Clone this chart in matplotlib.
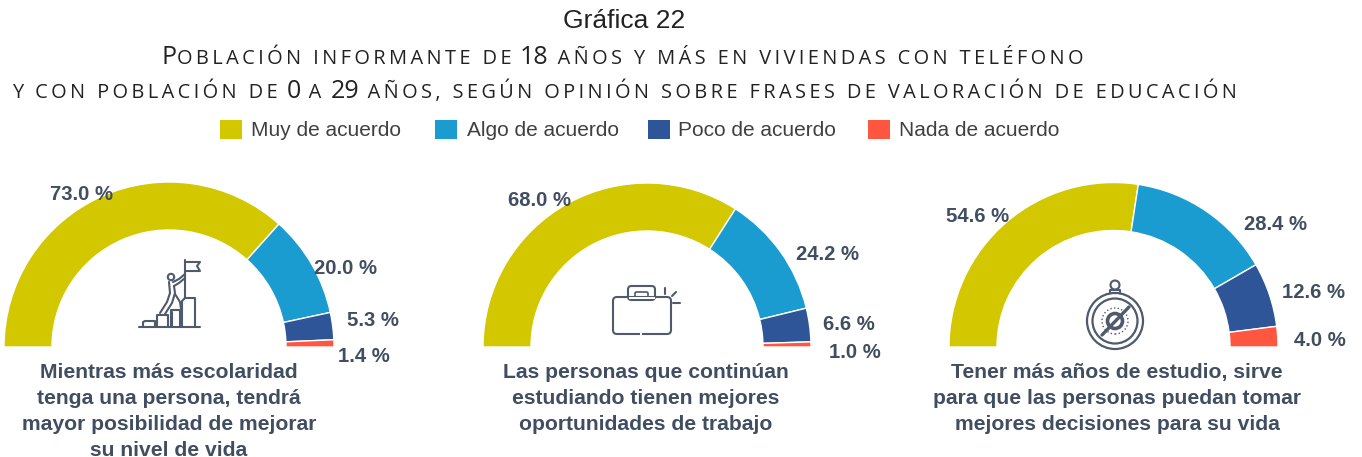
import matplotlib
matplotlib.use('Agg')
import matplotlib.pyplot as plt
from matplotlib.patches import Rectangle, Circle, FancyBboxPatch

W, H = 1362, 457

# datos
categorias = ['Muy de acuerdo', 'Algo de acuerdo', 'Poco de acuerdo', 'Nada de acuerdo']
colores = ['#d3c700', '#1b9cd0', '#2e5597', '#ff5640']
frase1 = [73.0, 20.0, 5.3, 1.4]
frase2 = [68.0, 24.2, 6.6, 1.0]
frase3 = [54.6, 28.4, 12.6, 4.0]
etiquetas1 = ['73.0 %', '20.0 %', '5.3 %', '1.4 %']
etiquetas2 = ['68.0 %', '24.2 %', '6.6 %', '1.0 %']
etiquetas3 = ['54.6 %', '28.4 %', '12.6 %', '4.0 %']
texto1 = 'Mientras más escolaridad\ntenga una persona, tendrá\nmayor posibilidad de mejorar\nsu nivel de vida'
texto2 = 'Las personas que continúan\nestudiando tienen mejores\noportunidades de trabajo'
texto3 = 'Tener más años de estudio, sirve\npara que las personas puedan tomar\nmejores decisiones para su vida'

GRIS = '#414d60'
ICONO = '#4f5a6c'

plt.rcParams['font.family'] = ['Liberation Sans', 'DejaVu Sans']

fig = plt.figure(figsize=(W / 100, H / 100), dpi=100)
ax = fig.add_axes([0, 0, 1, 1])


def Y(y):
    # coordenadas de pixel con origen arriba
    return H - y


def medio_anillo(valores, cx, cy, r, ancho):
    resto = sum(valores)
    ax.pie(valores + [resto], colors=colores + ['none'], startangle=180, counterclock=False,
           center=(cx, Y(cy)), radius=r, frame=True,
           wedgeprops=dict(width=ancho, edgecolor='white', linewidth=1))
    # la rebanada oculta no lleva borde
    ax.patches[-1].set_visible(False)


def linea(xs, ys, lw=1.5):
    ax.plot(xs, [Y(v) for v in ys], color=ICONO, lw=lw, solid_capstyle='round', solid_joinstyle='round')


def caja(x0, y0, x1, y1, radio, lw=1.5):
    ax.add_patch(FancyBboxPatch((x0, Y(y1)), x1 - x0, y1 - y0, boxstyle=f'round,pad=0,rounding_size={radio}',
                                fill=False, ec=ICONO, lw=lw))


medio_anillo(frase1, 169, 347, 165, 48)
medio_anillo(frase2, 647, 347, 164, 48)
medio_anillo(frase3, 1113.5, 347, 164.5, 48)

ax.set_xlim(0, W)
ax.set_ylim(0, H)
ax.set_aspect('auto')
ax.axis('off')

# titulo
ax.text(624, Y(21), 'Gráfica 22', fontsize=19, ha='center', va='center', color='#222222')


def renglon(trozos, x, y):
    # cada trozo: texto, tamano; se coloca uno tras otro con espaciado fino
    r = fig.canvas.get_renderer()
    for s, fs in trozos:
        t = ax.text(x, Y(y), s, fontsize=fs, family=['Open Sans', 'DejaVu Sans'], ha='left',
                    va='baseline', color='#222222')
        x = t.get_window_extent(r).x1


def abierto(s, n='\u2009'):
    return n.join(s)


G, P = 18, 14.45
renglon([('P', G), (abierto('OBLACIÓN INFORMANTE DE '), P), ('18', G),
         (abierto(' AÑOS Y MÁS EN VIVIENDAS CON TELÉFONO'), P)], 162, 64)
renglon([(abierto('Y CON POBLACIÓN DE '), P), ('0', G), (abierto(' A '), P), ('29', G),
         (abierto(' AÑOS, SEGÚN OPINIÓN SOBRE FRASES DE VALORACIÓN DE EDUCACIÓN'), P)], 12, 98)

# leyenda
for cat, col, xc, xt in zip(categorias, colores, [220, 435, 648, 868], [251, 467, 678, 899]):
    ax.add_patch(Rectangle((xc, Y(139)), 22, 19, color=col, lw=0))
    ax.text(xt, Y(130), cat, fontsize=15, ha='left', va='center', color='#404040')

# porcentajes
pos1 = [(82, 194), (346, 269), (373, 320), (364, 357)]
pos2 = [(539, 201), (827, 254), (849, 325), (855, 353)]
pos3 = [(978, 217), (1276, 224), (1313, 292), (1320, 340)]
for etiquetas, pos in [(etiquetas1, pos1), (etiquetas2, pos2), (etiquetas3, pos3)]:
    for e, (x, y) in zip(etiquetas, pos):
        ax.text(x, Y(y), e, fontsize=14.6, fontweight='bold', ha='center', va='center', color=GRIS)

# frases
for s, x, y in [(texto1, 169, 363), (texto2, 646, 363), (texto3, 1117, 363)]:
    ax.text(x, Y(y), s, fontsize=15.2, fontweight='bold', ha='center', va='top', color=GRIS, linespacing=1.46)

# icono escalera
linea([139, 200], [327, 327])
linea([143, 143, 145, 155, 155], [327, 322, 321, 321, 327])
linea([157, 157, 168, 168], [327, 315, 315, 327])
linea([171, 171, 180, 180], [327, 310, 310, 327])
linea([182, 182, 185, 195, 195], [327, 301, 298, 298, 327])
linea([172, 172], [312, 327])
linea([185, 185], [260, 298])
linea([185, 200, 197, 200, 185], [262, 262, 266, 271, 271])
linea([173, 179, 185], [282, 279, 274])
linea([174, 179, 185], [286, 283, 278])
linea([169, 170, 167, 160], [282, 293, 302, 313])
linea([174, 175, 172, 165], [286, 293, 303, 314])
linea([175, 180, 181], [294, 302, 309])
ax.add_patch(Circle((171, Y(277)), 3.2, fill=False, ec=ICONO, lw=1.5))

# icono maletin
caja(613, 297, 671, 334, 4)
caja(628, 286, 655, 300, 3.5)
caja(635, 292, 648, 300, 1.5, lw=1.2)
ax.add_patch(Rectangle((628.5, Y(299)), 26, 1.8, color='white', lw=0, zorder=3))
ax.add_patch(Rectangle((640, Y(335.5)), 2, 3, color='white', lw=0, zorder=3))
linea([665, 665], [288, 294])
linea([672, 676], [296, 292])
linea([673, 680], [303, 303])

# icono brujula
bx, by = 1115, 321
ax.add_patch(Circle((bx, Y(by)), 28, fill=False, ec=ICONO, lw=1.6))
ax.add_patch(Circle((bx, Y(by)), 22.5, fill=False, ec=ICONO, lw=1.6))
ax.add_patch(Circle((bx, Y(by - 36)), 4.5, fill=False, ec=ICONO, lw=1.5))
linea([bx - 5, bx - 5, bx + 5, bx + 5], [by - 28, by - 31, by - 31, by - 28])
ax.add_patch(Circle((bx, Y(by)), 7.5, fill=False, ec=ICONO, lw=2.6))
ax.add_patch(Circle((bx, Y(by)), 13, fill=False, ec=ICONO, lw=1.0, ls=':'))
linea([bx - 13, bx + 14], [by + 14, by - 14], lw=2.4)

fig.savefig('out.png', dpi=100)
